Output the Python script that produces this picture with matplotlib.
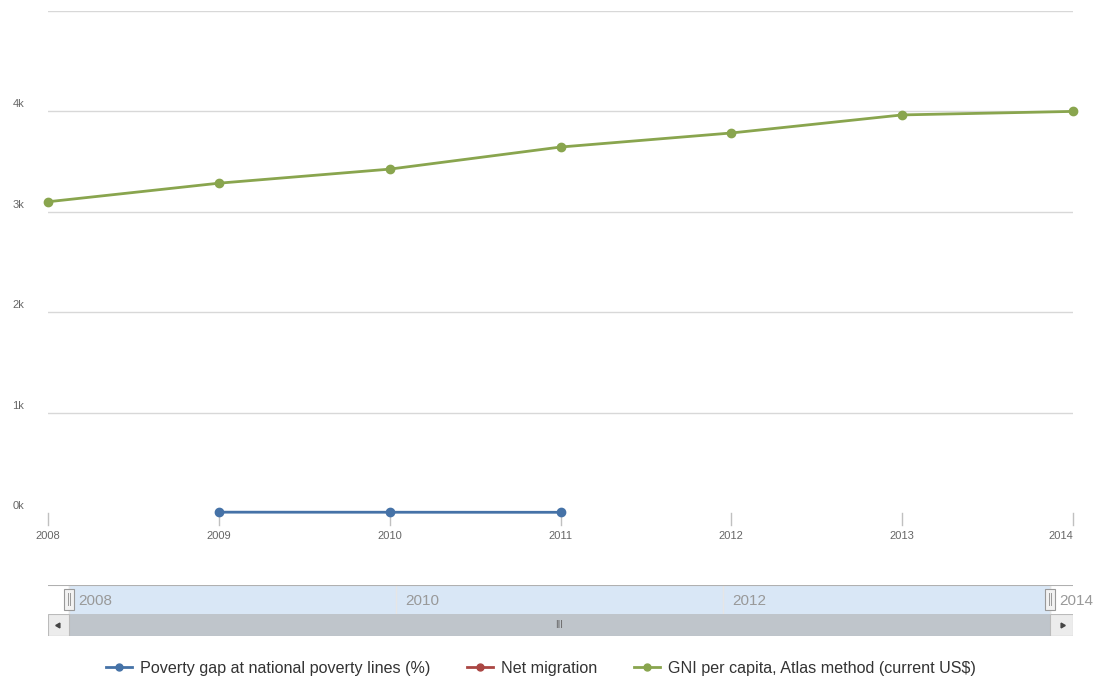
import numpy as np
import matplotlib.pyplot as plt
from matplotlib.lines import Line2D
from matplotlib.patches import Rectangle
from matplotlib.transforms import ScaledTranslation, blended_transform_factory

plt.rcParams['font.family'] = ['Liberation Sans', 'DejaVu Sans']

# data
years = [2008, 2009, 2010, 2011, 2012, 2013, 2014]
gni_years = [2008, 2009, 2010, 2011, 2012, 2013, 2014]
gni = [3100, 3285, 3425, 3645, 3785, 3965, 4000]
poverty_years = [2009, 2010, 2011]
poverty_gap = [8.3, 7.6, 7.0]
migration_years = []
migration = []
y_ticks = [0, 1000, 2000, 3000, 4000, 5000]
y_labels = ['0k', '1k', '2k', '3k', '4k', '']
nav_ticks = [2008, 2010, 2012, 2014]

blue = '#4572A7'
red = '#AA4643'
green = '#89A54E'
label_col = '#666666'

W, H = 1095, 679
fig = plt.figure(figsize=(W / 100, H / 100), dpi=100)


def px_box(x0, y0, x1, y1):
    # pixel box (top-left origin) -> figure fraction rect
    return [x0 / W, 1 - y1 / H, (x1 - x0) / W, (y1 - y0) / H]


# ---------------------------------------------
# main chart
ax = fig.add_axes(px_box(48, 11, 1073, 513))
ax.set_xlim(2008, 2014)
ax.set_ylim(0, 5000)
for s in ax.spines.values():
    s.set_visible(False)
ax.set_yticks([])
ax.set_xticks([])

for v in y_ticks[1:]:
    ax.axhline(v, color='#d8d8d8', lw=1, zorder=0)

off_up = ScaledTranslation(0, 7 / 100, fig.dpi_scale_trans)
for v, lab in zip(y_ticks, y_labels):
    ax.text(-0.029, v, lab, transform=blended_transform_factory(ax.transAxes, ax.transData) + off_up,
            ha='center', va='center', fontsize=8, color=label_col)

# x ticks and labels
trans_x = blended_transform_factory(ax.transData, ax.transAxes)
for yr in years:
    ax.plot([yr, yr], [0, -0.024], transform=trans_x, color='#c0c0c0', lw=1, clip_on=False)
    ha = 'right' if yr == years[-1] else 'center'
    ax.text(yr, -0.045, str(yr), transform=trans_x, ha=ha, va='center',
            fontsize=8, color=label_col)

ax.plot(gni_years, gni, color=green, lw=2, marker='o', ms=6, clip_on=False, zorder=3)
ax.plot(poverty_years, poverty_gap, color=blue, lw=2, marker='o', ms=6, clip_on=False, zorder=3)
ax.plot(migration_years, migration, color=red, lw=2, marker='o', ms=6)

# ---------------------------------------------
# navigator
nav = fig.add_axes(px_box(48, 585, 1073, 614))
x_left = 2008 - 21 / 163.7
x_right = 2014 + 23 / 163.7
nav.set_xlim(x_left, x_right)
nav.set_ylim(0, 1)
for s in nav.spines.values():
    s.set_visible(False)
nav.set_xticks([])
nav.set_yticks([])
nav.axvspan(2008, 2014, color='#d9e7f6', zorder=0)
nav.axhline(1, color='#b0b0b0', lw=1.5)
for t in nav_ticks:
    nav.axvline(t, color='#e6e6e6', lw=1, zorder=1)
    nav.text(t + 0.055, 0.46, str(t), ha='left', va='center', fontsize=11, color='#999999')
for t in [2008, 2014]:
    nav.add_patch(Rectangle((t - 0.03, 0.15), 0.06, 0.72, facecolor='#f2f2f2',
                            edgecolor='#999999', lw=0.8, zorder=4))
    for dx in (-0.009, 0.009):
        nav.plot([t + dx, t + dx], [0.3, 0.72], color='#999999', lw=0.7, zorder=5)

# scrollbar
sb = fig.add_axes(px_box(48, 614, 1073, 636))
sb.set_xlim(x_left, x_right)
sb.set_ylim(0, 1)
for s in sb.spines.values():
    s.set_visible(False)
sb.set_xticks([])
sb.set_yticks([])
sb.add_patch(Rectangle((2008, 0), 6, 1, facecolor='#bfc5cb', edgecolor='none'))
sb.add_patch(Rectangle((x_left, 0.02), 2008 - x_left, 0.96, facecolor='#ececec',
                       edgecolor='#bbbbbb', lw=0.8))
sb.add_patch(Rectangle((2014, 0.02), x_right - 2014, 0.96, facecolor='#ececec',
                       edgecolor='#bbbbbb', lw=0.8))
sb.axhline(0.02, color='#bbbbbb', lw=0.8)
sb.plot([(x_left + 2008) / 2], [0.5], marker=(3, 0, 90), ms=4, color='#444444')
sb.plot([(x_right + 2014) / 2], [0.5], marker=(3, 0, -90), ms=4, color='#444444')
sb.text(2011, 0.5, 'III', ha='center', va='center', fontsize=7, color='#666666')

# ---------------------------------------------
# legend
handles = [
    Line2D([], [], color=blue, lw=2, marker='o', ms=5),
    Line2D([], [], color=red, lw=2, marker='o', ms=5),
    Line2D([], [], color=green, lw=2, marker='o', ms=5),
]
labels = ['Poverty gap at national poverty lines (%)', 'Net migration',
          'GNI per capita, Atlas method (current US$)']
fig.legend(handles, labels, loc='center', bbox_to_anchor=(0.494, 1 - 668 / H), ncol=3,
           frameon=False, fontsize=11.6, handlelength=1.6, columnspacing=2.3, handletextpad=0.5,
           labelcolor='#333333')

fig.savefig('out.png', dpi=100)
